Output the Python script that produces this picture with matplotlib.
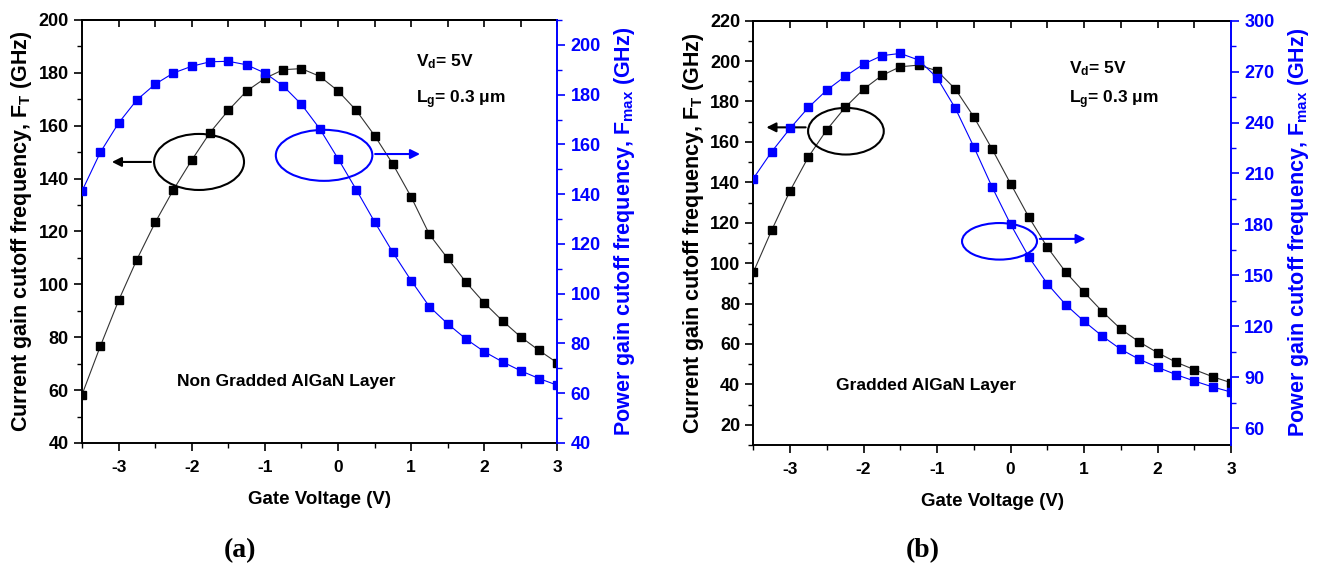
import matplotlib.pyplot as plt
import matplotlib
from matplotlib.patches import Ellipse
from matplotlib.ticker import MultipleLocator

matplotlib.rcParams['font.family'] = ['Liberation Sans', 'DejaVu Sans']
matplotlib.rcParams['font.weight'] = 'bold'
matplotlib.rcParams['axes.labelweight'] = 'bold'
matplotlib.rcParams['axes.unicode_minus'] = False
matplotlib.rcParams['mathtext.fontset'] = 'custom'
matplotlib.rcParams['mathtext.rm'] = 'Liberation Sans:bold'
matplotlib.rcParams['mathtext.bf'] = 'Liberation Sans:bold'
matplotlib.rcParams['mathtext.it'] = 'Liberation Sans:bold'

# gate voltage (V)
vg = [-3.5, -3.25, -3.0, -2.75, -2.5, -2.25, -2.0, -1.75, -1.5, -1.25, -1.0, -0.75, -0.5, -0.25,
      0.0, 0.25, 0.5, 0.75, 1.0, 1.25, 1.5, 1.75, 2.0, 2.25, 2.5, 2.75, 3.0]

# (a) non gradded AlGaN layer
ft_a = [58.3, 76.6, 93.9, 109.4, 123.4, 135.8, 147.0, 157.4, 165.8, 173.1, 177.9, 181.2, 181.6, 178.7,
        173.2, 165.8, 156.3, 145.5, 133.1, 118.9, 109.8, 100.8, 93.0, 86.2, 80.1, 75.0, 70.3]
fmax_a = [141.3, 156.8, 168.6, 177.9, 184.2, 188.7, 191.4, 193.2, 193.4, 192.0, 188.7, 183.5, 176.1, 166.3,
          154.3, 141.8, 128.9, 116.6, 105.3, 94.8, 87.9, 81.8, 76.7, 72.6, 69.0, 65.9, 63.2]

# (b) gradded AlGaN layer
ft_b = [95.5, 116.3, 135.8, 152.6, 166.0, 177.1, 186.1, 192.9, 197.2, 198.0, 195.2, 186.1, 172.4, 156.4,
        139.4, 122.7, 107.9, 95.6, 85.6, 76.0, 67.4, 61.0, 55.7, 51.0, 47.3, 43.8, 40.8]
fmax_b = [207.0, 222.8, 236.5, 248.9, 259.1, 267.2, 274.4, 279.4, 280.7, 276.8, 266.4, 248.3, 225.7, 201.9,
          180.1, 160.7, 145.0, 132.7, 122.9, 114.1, 106.4, 100.5, 95.8, 91.5, 87.7, 84.2, 81.2]

blue = '#0000ff'

fig = plt.figure(figsize=(13.17, 5.71), dpi=100)


def panel(rect, ft, fmax, ylim, ylim2, ymaj, ymin, y2maj, y2min):
    ax = fig.add_axes(rect)
    ax2 = ax.twinx()
    ax.plot(vg, ft, color='#333333', lw=0.8, marker='s', ms=5.5, mfc='black', mec='black', zorder=3)
    ax2.plot(vg, fmax, color=blue, lw=0.8, marker='s', ms=5.5, mfc=blue, mec=blue, zorder=3)
    ax.set_xlim(-3.5, 3)
    ax.set_ylim(*ylim)
    ax2.set_ylim(*ylim2)
    ax.xaxis.set_major_locator(MultipleLocator(1))
    ax.xaxis.set_minor_locator(MultipleLocator(0.5))
    ax.yaxis.set_major_locator(MultipleLocator(ymaj))
    ax.yaxis.set_minor_locator(MultipleLocator(ymin))
    ax2.yaxis.set_major_locator(MultipleLocator(y2maj))
    ax2.yaxis.set_minor_locator(MultipleLocator(y2min))
    ax.tick_params(which='major', length=6, width=1.2, labelsize=13)
    ax.tick_params(axis='x', labelsize=12.5, pad=6)
    ax.tick_params(which='minor', length=3.5, width=1.0)
    ax2.tick_params(which='major', length=6, width=1.2, labelsize=13, colors=blue)
    ax2.tick_params(which='minor', length=3.5, width=1.0, colors=blue)
    for s in ax.spines.values():
        s.set_linewidth(1.4)
    ax2.spines['right'].set_color(blue)
    ax2.spines['right'].set_linewidth(1.4)
    ax.spines['right'].set_visible(False)
    for s in ['left', 'top', 'bottom']:
        ax2.spines[s].set_visible(False)
    top = ax.secondary_xaxis('top')
    top.xaxis.set_major_locator(MultipleLocator(0.5))
    top.tick_params(direction='in', length=5, width=1.2, labeltop=False)
    top.spines['top'].set_linewidth(1.4)
    ax.set_xlabel('Gate Voltage (V)', fontsize=13.5, labelpad=12)
    ax.set_ylabel(r'Current gain cutoff frequency, F$_\mathbf{T}$ (GHz)', fontsize=15.5, labelpad=3)
    ax2.set_ylabel(r'Power gain cutoff frequency, F$_\mathbf{max}$ (GHz)', fontsize=15.5, color=blue, labelpad=8)
    return ax, ax2


# panel (a)
ax, ax2 = panel([0.0623, 0.2242, 0.3609, 0.7408], ft_a, fmax_a, (40, 200), (40, 210), 20, 10, 20, 10)
ax.add_patch(Ellipse((-1.9, 146.3), 1.23, 21.2, fill=False, ec='black', lw=1.5, zorder=4))
ax.annotate('', xy=(-3.13, 146.3), xytext=(-2.52, 146.3),
            arrowprops=dict(arrowstyle='-|>', color='black', lw=1.5, mutation_scale=14))
ax.add_patch(Ellipse((-0.19, 148.8), 1.32, 19.3, fill=False, ec=blue, lw=1.5, zorder=4))
ax.annotate('', xy=(1.16, 149.3), xytext=(0.47, 149.3),
            arrowprops=dict(arrowstyle='-|>', color=blue, lw=1.5, mutation_scale=14))
ax.text(1.07, 184.1, r'V$_\mathregular{d}$= 5V', fontsize=12.5, va='center')
ax.text(1.07, 169.7, r'L$_\mathregular{g}$= 0.3 $\mu$m', fontsize=12.5, va='center')
ax.text(-2.2, 63.2, 'Non Gradded AlGaN Layer', fontsize=12.5, va='center')
fig.text(0.182, 0.035, '(a)', family='Liberation Serif', fontsize=20, ha='center', va='center')

# panel (b)
bx, bx2 = panel([0.572, 0.2207, 0.3627, 0.7431], ft_b, fmax_b, (10, 220), (50, 300), 20, 10, 30, 15)
bx.add_patch(Ellipse((-2.24, 165.3), 1.03, 23.1, fill=False, ec='black', lw=1.5, zorder=4))
bx.annotate('', xy=(-3.36, 167.2), xytext=(-2.75, 167.2),
            arrowprops=dict(arrowstyle='-|>', color='black', lw=1.5, mutation_scale=14))
bx.add_patch(Ellipse((-0.15, 110.8), 1.02, 18.1, fill=False, ec=blue, lw=1.5, zorder=4))
bx.annotate('', xy=(1.06, 112.0), xytext=(0.36, 112.0),
            arrowprops=dict(arrowstyle='-|>', color=blue, lw=1.5, mutation_scale=14))
bx.text(0.80, 196.4, r'V$_\mathregular{d}$= 5V', fontsize=12.5, va='center')
bx.text(0.80, 180.7, r'L$_\mathregular{g}$= 0.3 $\mu$m', fontsize=12.5, va='center')
bx.text(-2.38, 39.5, 'Gradded AlGaN Layer', fontsize=12.5, va='center')
fig.text(0.701, 0.035, '(b)', family='Liberation Serif', fontsize=20, ha='center', va='center')

plt.savefig('out.png', dpi=100)
